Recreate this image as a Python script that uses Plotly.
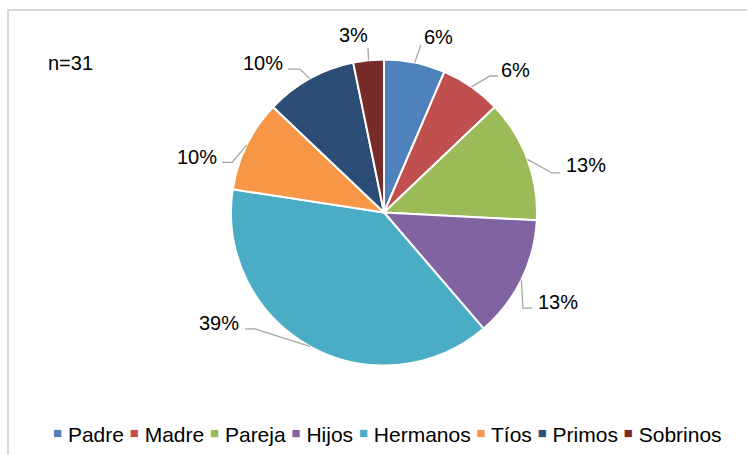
import math
import plotly.graph_objects as go

# Parentesco de los familiares (n=31)
categorias = ["Padre", "Madre", "Pareja", "Hijos", "Hermanos", "Tíos", "Primos", "Sobrinos"]
frecuencias = [2, 2, 4, 4, 12, 3, 3, 1]
colores = ["#4F81BD", "#C0504D", "#9BBB59", "#8064A2", "#4BACC6", "#F79646", "#2C4D75", "#772C2A"]
titulo_n = "n=31"

W, H = 747, 455
FONT = "Liberation Sans, Arial, sans-serif"

# pie box in pixels
pie_left, pie_right, pie_top, pie_bottom = 231, 537, 59.5, 365.5
cx = (pie_left + pie_right) / 2
cy = (pie_top + pie_bottom) / 2
R = (pie_right - pie_left) / 2


def px(x):
    return x / W


def py(y):
    return 1 - y / H


# leader-line layout per label: elbow offset from slice edge, horizontal run,
# text offset from the line end, text anchor
leader_layout = [
    dict(elbow=(6, -17.6), run=0, text=(2, -8), anchor="left"),
    dict(elbow=(18.6, -10.9), run=8, text=(2, -6.5), anchor="left"),
    dict(elbow=(24.5, 13.6), run=8, text=(5, -8), anchor="left"),
    dict(elbow=(1.6, 28.2), run=9, text=(5, -6.5), anchor="left"),
    dict(elbow=(-54.8, -17.4), run=-10, text=(-5, -6), anchor="right"),
    dict(elbow=(-14.6, 17.2), run=-10, text=(-4, -5.5), anchor="right"),
    dict(elbow=(-9.8, -9.6), run=-12, text=(-4, -6), anchor="right"),
    dict(elbow=(-0.5, -12.3), run=0, text=(1, -13), anchor="right"),
]

total = sum(frecuencias)

fig = go.Figure(
    go.Pie(
        labels=categorias,
        values=frecuencias,
        marker=dict(colors=colores, line=dict(color="white", width=2)),
        sort=False,
        direction="clockwise",
        rotation=0,
        textinfo="none",
        showlegend=False,
        domain=dict(x=[px(pie_left), px(pie_right)], y=[py(pie_bottom), py(pie_top)]),
    )
)

shapes = []
annotations = []

# percentage labels with elbow leader lines
acum = 0
for val, lay in zip(frecuencias, leader_layout):
    mid = (acum + val / 2) / total * 2 * math.pi
    acum += val
    ex = cx + R * math.sin(mid)
    ey = cy - R * math.cos(mid)
    bx, by = ex + lay["elbow"][0], ey + lay["elbow"][1]
    lx, ly = bx + lay["run"], by
    path = f"M {px(ex)} {py(ey)} L {px(bx)} {py(by)} L {px(lx)} {py(ly)}"
    shapes.append(dict(type="path", xref="paper", yref="paper", path=path,
                       line=dict(color="#A6A6A6", width=1.3)))
    pct = round(val / total * 100)
    annotations.append(dict(
        x=px(lx + lay["text"][0]), y=py(ly + lay["text"][1]),
        xref="paper", yref="paper", xanchor=lay["anchor"], yanchor="middle",
        text=f"{pct}%", showarrow=False, borderpad=0,
        font=dict(family=FONT, size=20, color="#000000"),
    ))

# sample size
annotations.append(dict(
    x=px(47), y=py(63), xref="paper", yref="paper", xanchor="left", yanchor="middle",
    text=titulo_n, showarrow=False, borderpad=0,
    font=dict(family=FONT, size=20, color="#000000"),
))

# legend row built as rich text
partes = [
    f"<span style='color:{c};font-size:15px;baseline-shift:4px'>■</span> {cat}"
    for cat, c in zip(categorias, colores)
]
annotations.append(dict(
    x=px(387.5), y=py(434), xref="paper", yref="paper", xanchor="center", yanchor="middle",
    text=" ".join(partes), showarrow=False, borderpad=0,
    font=dict(family=FONT, size=21, color="#000000"),
))

# chart frame
shapes.append(dict(type="rect", xref="paper", yref="paper",
                   x0=px(8), x1=px(W + 20), y0=py(H + 20), y1=py(10),
                   line=dict(color="#D9D9D9", width=2)))

fig.update_layout(
    width=W, height=H,
    margin=dict(l=0, r=0, t=0, b=0),
    paper_bgcolor="white", plot_bgcolor="white",
    shapes=shapes, annotations=annotations,
    font=dict(family=FONT),
)

fig.write_html("out.html")
